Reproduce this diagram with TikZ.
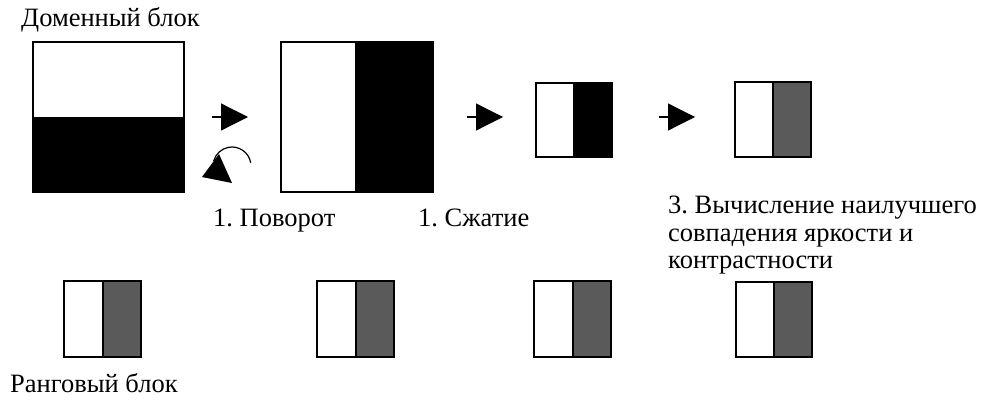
\documentclass[tikz,border=0pt]{standalone}
\usepackage{fontspec}
\setmainfont{Liberation Serif}
\usetikzlibrary{arrows.meta}
\frenchspacing
\definecolor{R}{RGB}{90,90,90}
\newcommand{\drawthick}{\draw[line width=2pt]}
% left half white, right half coloured
\newcommand{\splitsquare}[5]{
    \filldraw[fill=#5, line width=2pt] (#1+#3/2,#2) rectangle ++(#3/2,#4);
    \drawthick (#1,#2) rectangle ++(#3/2,#4);
}
\newcommand{\steparrow}[3]{
    \coordinate (#1s) at (#2,#3);
    \coordinate (#1e) at (#2+36,#3);
    \draw[line width=1.2pt, -{Triangle[length=27pt,width=27pt]}] (#1s) -- (#1e);
}
\tikzset{label/.style={anchor=base west, inner sep=0pt, font=\fontsize{26.5}{27.5}\selectfont}}

\begin{document}
\begin{tikzpicture}[x=1pt,y=-1pt]
\useasboundingbox (0,0) rectangle (992,401);
% domain block
\fill (33,117) rectangle (184,192);
\drawthick (33,42) rectangle (184,192);
\node[label] (domain) at (21,27) {Доменный блок};
% rotation
\steparrow{a1}{212}{117}
\draw[line width=1.2pt] (250.7,162.7) arc[start angle=-10, end angle=-165, radius=19];
\fill (202,177) -- (219,154) -- (232,183) -- cycle;
\fill (356,42) rectangle (433,192);
\drawthick (281,42) rectangle (433,192);
\drawthick (356,42) -- (356,192);
\node[label] (turn) at (213,226) {1. Поворот};
% compression
\steparrow{a2}{467}{117}
\splitsquare{536}{83}{76}{74}{black}
\node[label] (shrink) at (418,226) {1. Сжатие};
% brightness and contrast
\steparrow{a3}{659}{117}
\splitsquare{735}{82}{76}{75}{R}
\node[label, align=left, anchor=north west] (match) at (668,196) {3. Вычисление наилучшего\\совпадения яркости и\\контрастности};
% range blocks
\splitsquare{64}{281}{77}{76}{R}
\splitsquare{317}{281}{77}{76}{R}
\splitsquare{534}{281}{77}{76}{R}
\splitsquare{736}{282}{76}{75}{R}
\node[label] (range) at (10,392) {Ранговый блок};
\end{tikzpicture}
\end{document}
